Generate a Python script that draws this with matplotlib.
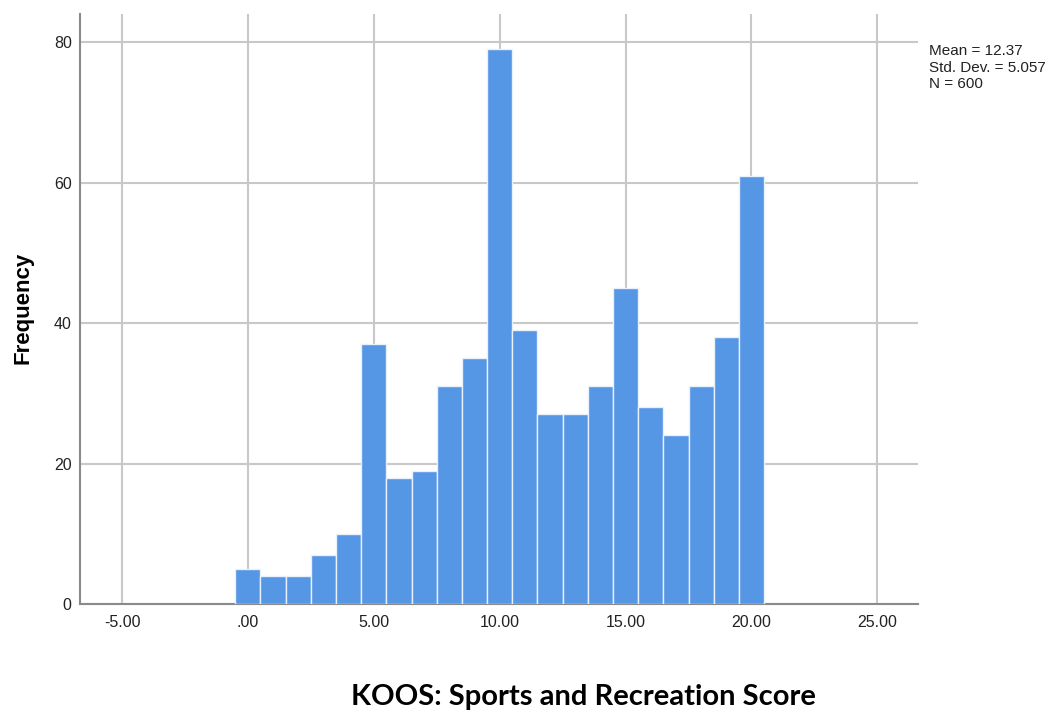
import numpy as np
import matplotlib.pyplot as plt

# bin centres (score) and counts
scores = list(range(0, 21))
counts = [5, 4, 4, 7, 10, 37, 18, 19, 31, 35, 79, 39, 27, 27, 31, 45, 28, 24, 31, 38, 61]
x_ticks = [-5, 0, 5, 10, 15, 20, 25]
x_tick_labels = ['-5.00', '.00', '5.00', '10.00', '15.00', '20.00', '25.00']
y_ticks = [0, 20, 40, 60, 80]
stats_text = "Mean = 12.37\nStd. Dev. = 5.057\nN = 600"

fig = plt.figure(figsize=(10.55, 7.11), dpi=100)
ax = fig.add_axes([0.0758, 0.1505, 0.794, 0.8295])

ax.bar(scores, counts, width=1.0, color='#5596e5', edgecolor='#e8f0fb', linewidth=1.0, zorder=3)

ax.set_xlim(-6.67, 26.6)
ax.set_ylim(0, 84)
ax.set_xticks(x_ticks)
ax.set_xticklabels(x_tick_labels)
ax.set_yticks(y_ticks)

ax.grid(True, color='#c8c8c8', linewidth=1.5, zorder=0)
ax.set_axisbelow(True)
for s in ['top', 'right']:
    ax.spines[s].set_visible(False)
ax.spines['left'].set_color('#8a8a8a')
ax.spines['left'].set_linewidth(1.5)
ax.spines['bottom'].set_color('#8a8a8a')
ax.spines['bottom'].set_linewidth(1.5)
ax.tick_params(length=0, labelsize=11.5, colors='#222222')
ax.tick_params(axis='x', pad=8)
ax.tick_params(axis='y', pad=6)
for lab in ax.get_xticklabels() + ax.get_yticklabels():
    lab.set_family('Liberation Sans')

fig.text(23 / 1055, 1 - 308 / 711, 'Frequency', rotation=90, ha='center', va='center',
         fontsize=16, fontweight='bold', family='Liberation Sans')
fig.text(0.553, 1 - 697 / 711, 'KOOS: Sports and Recreation Score', ha='center', va='center',
         fontsize=21, fontweight='bold', family='Lato')
fig.text(0.881, 1 - 44 / 711, stats_text, ha='left', va='top', fontsize=11,
         family='Liberation Sans', linespacing=1.25, color='#222222')

fig.savefig('out.png', dpi=100)
